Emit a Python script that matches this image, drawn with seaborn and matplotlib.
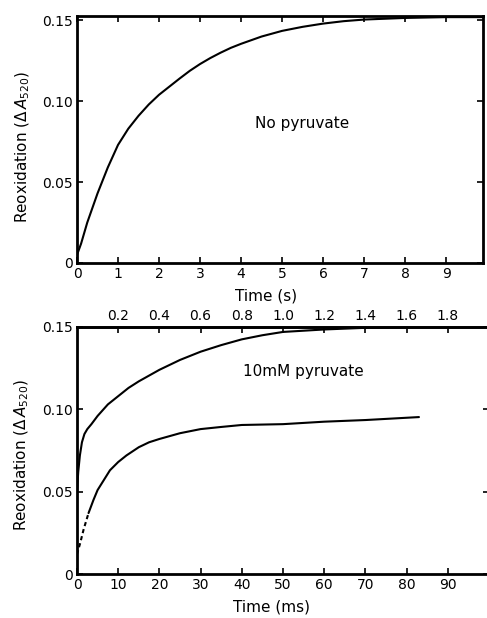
import matplotlib
matplotlib.use('Agg')
import matplotlib.pyplot as plt
import seaborn as sns

# ---------------------------------------------------------
# data
# ---------------------------------------------------------
# top panel: no pyruvate, time in s
t_nopyr = [0, 0.1, 0.25, 0.5, 0.75, 1.0, 1.25, 1.5, 1.75, 2.0, 2.25, 2.5, 2.75,
           3.0, 3.25, 3.5, 3.75, 4.0, 4.5, 5.0, 5.5, 6.0, 6.5, 7.0, 7.5, 8.0,
           9.0, 9.9]
a_nopyr = [0.005, 0.012, 0.025, 0.043, 0.059, 0.073, 0.083, 0.091, 0.098, 0.104,
           0.109, 0.114, 0.1188, 0.123, 0.1267, 0.130, 0.133, 0.1355, 0.140,
           0.1435, 0.146, 0.148, 0.1495, 0.1505, 0.151, 0.1515, 0.152, 0.152]

# bottom panel: 10 mM pyruvate, time in ms
t_slow = [0, 0.3, 0.7, 1.2, 1.8, 2.5, 3.5, 5, 7.5, 10, 12.5, 15, 20, 25, 30,
          35, 40, 45, 50, 60, 70, 80, 100]
a_slow = [0.050, 0.062, 0.072, 0.080, 0.085, 0.088, 0.091, 0.096, 0.103, 0.108,
          0.113, 0.117, 0.124, 0.130, 0.135, 0.139, 0.1425, 0.145, 0.147,
          0.1485, 0.1495, 0.150, 0.150]

t_fast_dash = [0, 0.8, 1.6, 2.8]
a_fast_dash = [0.012, 0.019, 0.027, 0.037]

t_fast = [2.8, 4, 5, 6.5, 8, 10, 12, 15, 17.5, 20, 25, 30, 35, 40, 50, 60, 70, 83]
a_fast = [0.037, 0.045, 0.051, 0.057, 0.063, 0.068, 0.072, 0.077, 0.080, 0.082,
          0.0855, 0.088, 0.0893, 0.0905, 0.091, 0.0925, 0.0935, 0.0953]

yticks = [0, 0.05, 0.10, 0.15]
ytick_labels = ['0', '0.05', '0.10', '0.15']
xticks_s = list(range(0, 10))
xticks_ms = list(range(0, 100, 10))
xticks_top_s = [0.2, 0.4, 0.6, 0.8, 1.0, 1.2, 1.4, 1.6, 1.8]

# ---------------------------------------------------------
# style
# ---------------------------------------------------------
sns.set_theme(style='ticks')
plt.rcParams['font.family'] = ['DejaVu Sans']
plt.rcParams['mathtext.fontset'] = 'dejavusans'
plt.rcParams['text.color'] = 'black'
plt.rcParams['axes.labelcolor'] = 'black'
plt.rcParams['xtick.direction'] = 'in'
plt.rcParams['ytick.direction'] = 'in'
plt.rcParams['xtick.major.size'] = 4.5
plt.rcParams['ytick.major.size'] = 4.5
plt.rcParams['xtick.major.width'] = 1.2
plt.rcParams['ytick.major.width'] = 1.2
plt.rcParams['xtick.color'] = 'black'
plt.rcParams['ytick.color'] = 'black'

ylabel = r'Reoxidation ($\Delta\,A_{520}$)'

fig = plt.figure(figsize=(4.87, 6.18), dpi=100)
ax1 = fig.add_axes([77 / 487, 1 - 263 / 618, 406 / 487, 247 / 618])
ax2 = fig.add_axes([77 / 487, 1 - 574 / 618, 412 / 487, 247 / 618])

# top panel
sns.lineplot(x=t_nopyr, y=a_nopyr, ax=ax1, color='black', linewidth=1.5)
ax1.set_xlim(0, 9.9)
ax1.set_ylim(0, 0.1527)
ax1.set_xticks(xticks_s)
ax1.set_xticklabels([str(v) for v in xticks_s])
ax1.text(5.5, 0.086, 'No pyruvate', ha='center', va='center', fontsize=11)
ax1.set_xlabel('Time (s)', fontsize=11)
ax1.xaxis.set_label_coords(0.466, -0.105)

# bottom panel
sns.lineplot(x=t_slow, y=a_slow, ax=ax2, color='black', linewidth=1.5)
sns.lineplot(x=t_fast, y=a_fast, ax=ax2, color='black', linewidth=1.5)
sns.lineplot(x=t_fast_dash, y=a_fast_dash, ax=ax2, color='black',
             linewidth=1.5, linestyle=(0, (2, 1.5)))
ax2.set_xlim(0, 100)
ax2.set_ylim(0, 0.15)
ax2.set_xticks(xticks_ms)
ax2.set_xticklabels([str(v) for v in xticks_ms])
ax2.text(55, 0.1227, '10mM pyruvate', ha='center', va='center', fontsize=11)
ax2.set_xlabel('Time (ms)', fontsize=11)
ax2.xaxis.set_label_coords(0.473, -0.105)

sec = ax2.secondary_xaxis('top', functions=(lambda x: x / 50, lambda x: x * 50))
sec.set_xticks(xticks_top_s)
sec.set_xticklabels([f'{v:.1f}' for v in xticks_top_s])
sec.tick_params(direction='in', length=4.5, width=1.2, labelsize=10, pad=3)
sec.spines['top'].set_linewidth(2)

for ax, ycen in [(ax1, 0.47), (ax2, 0.482)]:
    ax.set_yticks(yticks)
    ax.set_yticklabels(ytick_labels)
    ax.tick_params(top=True, right=True, labelsize=10, pad=3)
    if ax is ax2:
        ax.tick_params(top=False)
    for s in ax.spines.values():
        s.set_visible(True)
        s.set_linewidth(2)
        s.set_color('black')
    ax.set_ylabel(ylabel, fontsize=11)
    ax.yaxis.set_label_coords(-0.111, ycen)

plt.savefig('out.png', dpi=100)
